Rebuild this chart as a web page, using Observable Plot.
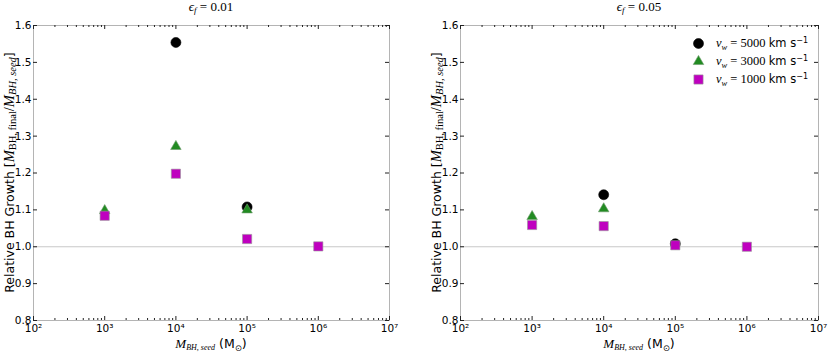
<!DOCTYPE html>
<html><head><meta charset="utf-8">
<script src="https://cdn.jsdelivr.net/npm/d3@7"></script>
<script src="https://cdn.jsdelivr.net/npm/@observablehq/plot@0.6"></script>
<style>
body{margin:0;background:#fff}
#wrap{position:relative;width:830px;height:352px;background:#fff}
.p{position:absolute;top:0}
</style>
</head><body><div id="wrap"></div>
<script>
// ---- data ----
const masses = [1e3, 1e4, 1e5, 1e6];
const panelTitles = ["0.01", "0.05"];
// eps_f = 0.01
const f001_v5000 = [NaN, 1.554, 1.108, NaN];
const f001_v3000 = [1.098, 1.272, 1.100, NaN];
const f001_v1000 = [1.084, 1.198, 1.021, 1.001];
// eps_f = 0.05
const f005_v5000 = [NaN, 1.141, 1.008, NaN];
const f005_v3000 = [1.082, 1.103, NaN, NaN];
const f005_v1000 = [1.059, 1.056, 1.004, 1.000];
const windSpeeds = ["5000", "3000", "1000"];
const xTickValues = [1e2, 1e3, 1e4, 1e5, 1e6, 1e7];
const yTickValues = [0.8, 0.9, 1.0, 1.1, 1.2, 1.3, 1.4, 1.5, 1.6];

const symbols = ["circle", "triangle", "square"];
const colors = ["#000000", "#228b22", "#bf00bf"];
const edges = ["#000000", "#6a9a6a", "#999999"];
const radii = [5, 3.9, 5.2];

const supDigits = {"0":"⁰","1":"¹","2":"²","3":"³","4":"⁴","5":"⁵","6":"⁶","7":"⁷","8":"⁸","9":"⁹"};
const fmtX = d => "10" + String(Math.round(Math.log10(d))).split("").map(c => supDigits[c]).join("");

const SERIF = "Liberation Serif, DejaVu Serif, serif";
const SANS = "DejaVu Sans, sans-serif";

function rich(sel, parts) {
  parts.forEach(p => {
    const t = sel.append("tspan").text(p.t)
      .attr("font-family", p.serif ? SERIF : SANS)
      .attr("font-style", p.it ? "italic" : "normal")
      .attr("font-size", p.size);
    if (p.dy) t.attr("dy", p.dy);
  });
}

function panel(idx, values, ml, mr, legend) {
  const W = 415, H = 352, mt = 25, mb = 32;
  const iw = W - ml - mr, ih = H - mt - mb;
  const xMinor = d3.scaleLog().domain([1e2, 1e7]).ticks().filter(t => !xTickValues.includes(t));
  const marks = [
    Plot.ruleY([1.0], {stroke: "#c8c8c8", strokeWidth: 1}),
    Plot.frame({stroke: "#b4b4b4"}),
    // inward ticks, bottom & top
    Plot.ruleX(xTickValues, {x: d => d, insetTop: ih - 4, stroke: "#222"}),
    Plot.ruleX(xTickValues, {x: d => d, insetBottom: ih - 4, stroke: "#222"}),
    Plot.ruleX(xMinor, {x: d => d, insetTop: ih - 2, stroke: "#222"}),
    Plot.ruleX(xMinor, {x: d => d, insetBottom: ih - 2, stroke: "#222"}),
    // inward ticks, left & right
    Plot.ruleY(yTickValues, {y: d => d, insetRight: iw - 4, stroke: "#222"}),
    Plot.ruleY(yTickValues, {y: d => d, insetLeft: iw - 4, stroke: "#222"}),
    Plot.axisX({ticks: xTickValues, tickSize: 0, tickPadding: 4, tickFormat: fmtX, label: null, fontSize: 10.5}),
    Plot.axisY({ticks: yTickValues, tickSize: 0, tickPadding: 2, tickFormat: d3.format(".1f"), label: null, fontSize: 10.5})
  ];
  values.forEach((vals, k) => {
    marks.push(Plot.dot(masses.map((m, i) => ({m, g: vals[i]})), {
      x: "m", y: "g", symbol: symbols[k], r: radii[k], fill: colors[k], stroke: edges[k], strokeWidth: 0.6
    }));
  });
  if (legend) {
    windSpeeds.forEach((v, k) => {
      marks.push(Plot.dot([0], {frameAnchor: "top-right", dx: -120, dy: 18 + k * 18, symbol: symbols[k], r: radii[k], fill: colors[k], stroke: edges[k], strokeWidth: 0.6}));
    });
  }
  const chart = Plot.plot({
    width: W, height: H, marginTop: mt, marginBottom: mb, marginLeft: ml, marginRight: mr,
    x: {type: "log", domain: [1e2, 1e7]},
    y: {domain: [0.8, 1.6]},
    style: {fontFamily: SANS, fontSize: "10px", color: "#000", background: "#fff", overflow: "visible"},
    marks
  });
  const svg = d3.select(chart);
  const cx = ml + iw / 2;
  // title
  const title = svg.append("text").attr("x", cx).attr("y", 11).attr("text-anchor", "middle");
  rich(title, [
    {t: "ϵ", serif: true, it: true, size: 13},
    {t: "f", serif: true, it: true, size: 9, dy: "0.25em"},
    {t: " = " + panelTitles[idx], serif: true, size: 13, dy: "-0.2em"}
  ]);
  // x label
  const xl = svg.append("text").attr("x", cx).attr("y", 348).attr("text-anchor", "middle");
  rich(xl, [
    {t: "M", serif: true, it: true, size: 13},
    {t: "BH, seed", serif: true, it: true, size: 8, dy: "0.3em"},
    {t: " (M", size: 12.5, dy: "-0.18em"},
    {t: "⊙", size: 8.5, dy: "0.3em"},
    {t: ")", size: 12.5, dy: "-0.2em"}
  ]);
  // y label
  const yx = ml - 19;
  const yl = svg.append("text").attr("text-anchor", "middle")
    .attr("transform", `translate(${yx},${mt + ih / 2}) rotate(-90)`);
  rich(yl, [
    {t: "Relative BH Growth [", size: 12.5},
    {t: "M", serif: true, it: true, size: 14.5},
    {t: "BH, final", serif: true, size: 10.5, dy: "0.15em"},
    {t: "/", serif: true, size: 14.5, dy: "-0.11em"},
    {t: "M", serif: true, it: true, size: 14.5},
    {t: "BH, seed", serif: true, it: true, size: 10.5, dy: "0.15em"},
    {t: "]", size: 12.5, dy: "-0.13em"}
  ]);
  if (legend) {
    windSpeeds.forEach((v, k) => {
      const lt = svg.append("text").attr("text-anchor", "start")
        .attr("x", ml + iw - 102).attr("y", mt + 22 + k * 18);
      rich(lt, [
        {t: "v", serif: true, it: true, size: 12.5},
        {t: "w", serif: true, it: true, size: 8.5, dy: "0.3em"},
        {t: " = " + v + " ", serif: true, size: 12.5, dy: "-0.2em"},
        {t: "km s", size: 11.5},
        {t: "−1", size: 8, dy: "-0.55em"}
      ]);
    });
  }
  chart.setAttribute("class", "p");
  return chart;
}

const wrap = document.getElementById("wrap");
const left = panel(0, [f001_v5000, f001_v3000, f001_v1000], 33, 26, false);
left.style.left = "0px";
const right = panel(1, [f005_v5000, f005_v3000, f005_v1000], 45, 12, true);
right.style.left = "415px";
wrap.appendChild(left);
wrap.appendChild(right);
</script>
</body></html>
